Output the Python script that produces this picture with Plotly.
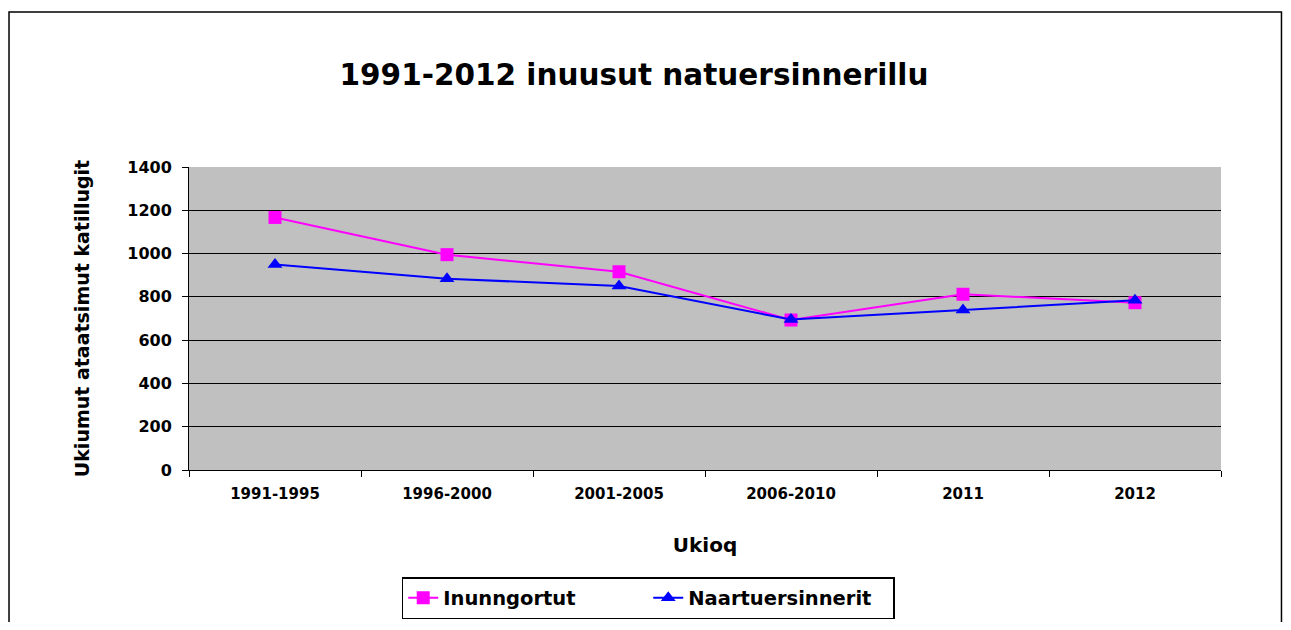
import plotly.graph_objects as go

## Categories and values
periods = ["1991-1995", "1996-2000", "2001-2005", "2006-2010", "2011", "2012"]
inunngortut = [1167, 995, 916, 693, 812, 773]
naartuersinnerit = [949, 884, 850, 695, 739, 784]

font_family = "DejaVu Sans, Arial, sans-serif"

fig = go.Figure()
fig.add_trace(go.Scatter(
    x=periods, y=inunngortut, name="<b>Inunngortut</b>", mode="lines+markers",
    line=dict(color="#FF00FF", width=2),
    marker=dict(symbol="square", size=13, color="#FF00FF")))
fig.add_trace(go.Scatter(
    x=periods, y=naartuersinnerit, name="<b>Naartuersinnerit</b>", mode="lines+markers",
    line=dict(color="#0000FF", width=2),
    marker=dict(symbol="triangle-up", size=13, color="#0000FF")))

## page body has an 8px margin, so the figure is a bit smaller than the window
fig.update_layout(
    width=1275, height=614,
    margin=dict(l=181, r=62, t=159, b=152),
    paper_bgcolor="white", plot_bgcolor="#C0C0C0",
    font=dict(family=font_family, color="black"),
    title=dict(text="<b>1991-2012 inuusut natuersinnerillu</b>",
               x=0.491, xanchor="center", y=0.891, yanchor="middle",
               font=dict(size=29.5, color="black")),
    showlegend=True,
    legend=dict(orientation="h", x=0.445, xanchor="center",
                yref="container", y=0.073, yanchor="top",
                entrywidth=200,
                bordercolor="black", borderwidth=1.5, bgcolor="white",
                font=dict(size=19.5, color="black")),
)

fig.update_xaxes(
    title=dict(text="<b>Ukioq</b>", font=dict(size=20), standoff=35),
    range=[-0.5, 5.5],
    tickfont=dict(size=15), tickprefix="<b>", ticksuffix="</b>",
    ticklabelstandoff=10,
    showline=True, linecolor="black", linewidth=1,
    ticks="outside", tickson="boundaries", ticklen=6, tickcolor="black",
    showgrid=False)
fig.update_yaxes(
    title=dict(text="<b>Ukiumut ataatsimut katillugit</b>", font=dict(size=19), standoff=32),
    range=[0, 1400], dtick=200, tickfont=dict(size=16),
    tickprefix="<b>", ticksuffix="</b>",
    ticklabelstandoff=7,
    showline=True, linecolor="black", linewidth=1,
    ticks="outside", ticklen=6, tickcolor="black",
    showgrid=True, gridcolor="black", gridwidth=1, zeroline=False)

## Outer chart frame
fig.add_shape(type="rect", xref="paper", yref="paper",
              x0=-0.1744, x1=1.0586, y0=-0.6, y1=1.5116,
              line=dict(color="black", width=1.5), fillcolor="rgba(0,0,0,0)")

fig.write_html("out.html")
